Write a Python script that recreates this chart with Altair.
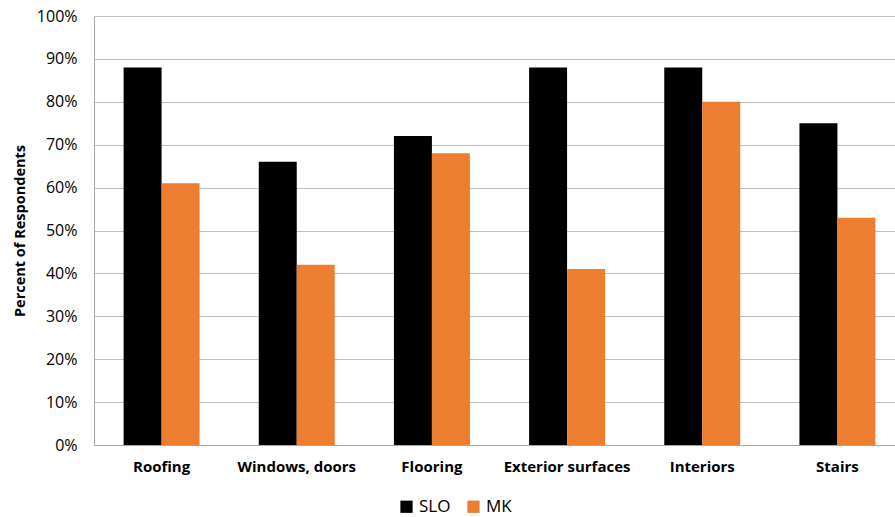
import altair as alt
import pandas as pd

categories = ["Roofing", "Windows, doors", "Flooring", "Exterior surfaces", "Interiors", "Stairs"]
series = ["SLO", "MK"]
slo_values = [0.88, 0.66, 0.72, 0.88, 0.88, 0.75]
mk_values = [0.61, 0.42, 0.68, 0.41, 0.80, 0.53]
colors = ["#000000", "#ED7D31"]

rows = []
for cat, s, m in zip(categories, slo_values, mk_values):
    rows.append({"category": cat, "series": "SLO", "value": s})
    rows.append({"category": cat, "series": "MK", "value": m})
df = pd.DataFrame(rows)

FONT = "Open Sans"

chart = alt.Chart(df).mark_bar().encode(
    x=alt.X(
        "category:N",
        sort=categories,
        title=None,
        scale=alt.Scale(range=[0, 811], paddingInner=0.438, paddingOuter=0.219),
        axis=alt.Axis(
            labelAngle=0,
            labelFont=FONT,
            labelFontWeight="bold",
            labelFontSize=15,
            labelColor="#000000",
            labelPadding=14,
            ticks=False,
            domainColor="#A6A6A6",
            grid=False,
        ),
    ),
    xOffset=alt.XOffset("series:N", sort=series),
    y=alt.Y(
        "value:Q",
        title="Percent of Respondents",
        scale=alt.Scale(domain=[0, 1], nice=False),
        axis=alt.Axis(
            format=".0%",
            values=[i / 10 for i in range(11)],
            labelFont=FONT,
            labelFontSize=16,
            labelColor="#000000",
            labelPadding=17,
            ticks=False,
            domainColor="#A6A6A6",
            gridColor="#BFBFBF",
            titleFont=FONT,
            titleFontSize=14.5,
            titleFontWeight="bold",
            titleColor="#000000",
            titlePadding=9,
        ),
    ),
    color=alt.Color(
        "series:N",
        sort=series,
        scale=alt.Scale(domain=series, range=colors),
        legend=alt.Legend(
            title=None,
            orient="none",
            direction="horizontal",
            legendX=304,
            legendY=482,
            symbolType="square",
            symbolSize=150,
            symbolStrokeWidth=0,
            labelFont=FONT,
            labelFontSize=17,
            labelColor="#000000",
            columnPadding=14,
        ),
    ),
).properties(
    width=801,
    height=429,
    autosize="none",
    padding={"left": 94, "top": 16, "right": 0, "bottom": 72},
).configure_view(
    stroke=None
)

chart.save("out.html", embed_options={"renderer": "svg", "actions": False})
